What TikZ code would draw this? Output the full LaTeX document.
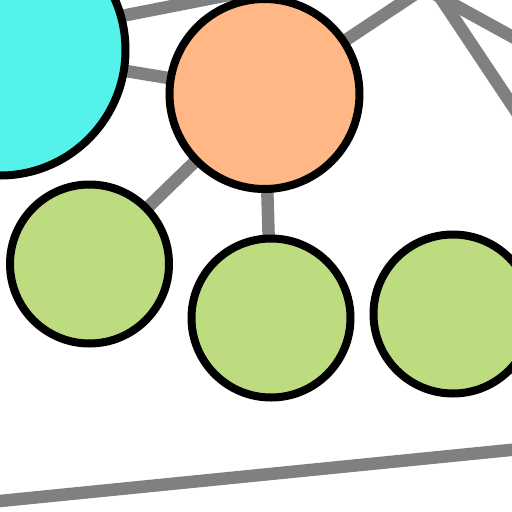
\documentclass[tikz,border=0pt]{standalone}
\definecolor{cyanfill}{RGB}{85,242,236}
\definecolor{orangefill}{RGB}{255,183,134}
\definecolor{greenfill}{RGB}{189,220,128}
\definecolor{edgegray}{RGB}{128,128,128}
\tikzset{
  vertex/.style={circle, draw=black, line width=8pt, inner sep=0pt},
  link/.style={draw=edgegray, line width=12.5pt},
}
\begin{document}
\begin{tikzpicture}[x=1pt,y=-1pt]
\useasboundingbox (0,0) rectangle (512,512);
\clip (0,0) rectangle (512,512);
\fill[white] (0,0) rectangle (512,512);
% centres
\coordinate (cy) at (0,50);
\coordinate (or) at (264.5,94);
\coordinate (g1) at (89.5,264);
\coordinate (g2) at (271,318);
\coordinate (g3) at (453,314);
% off-canvas ends
\coordinate (h1) at (40,32);
\coordinate (f1) at (300,-19);
\coordinate (f2) at (480,-49);
\coordinate (a1) at (380,-36);
\coordinate (a2) at (560,63);
\coordinate (b1) at (410,-48);
\coordinate (b2) at (560,177);
\coordinate (c1) at (-20,503);
\coordinate (c2) at (540,447);
% connectors
\draw[link] (h1) -- (f1);
\draw[link] (cy) -- (or);
\draw[link] (or) -- (f2);
\draw[link] (or) -- (g1);
\draw[link] (or) -- (g2);
\draw[link] (a1) -- (a2);
\draw[link] (b1) -- (b2);
\draw[link] (c1) -- (c2);
% vertices
\node[vertex, fill=cyanfill, minimum size=251pt] (ncy) at (cy) {};
\node[vertex, fill=orangefill, minimum size=190pt] (nor) at (or) {};
\node[vertex, fill=greenfill, minimum size=159pt] (ng1) at (g1) {};
\node[vertex, fill=greenfill, minimum size=159pt] (ng2) at (g2) {};
\node[vertex, fill=greenfill, minimum size=159pt] (ng3) at (g3) {};
\end{tikzpicture}
\end{document}
